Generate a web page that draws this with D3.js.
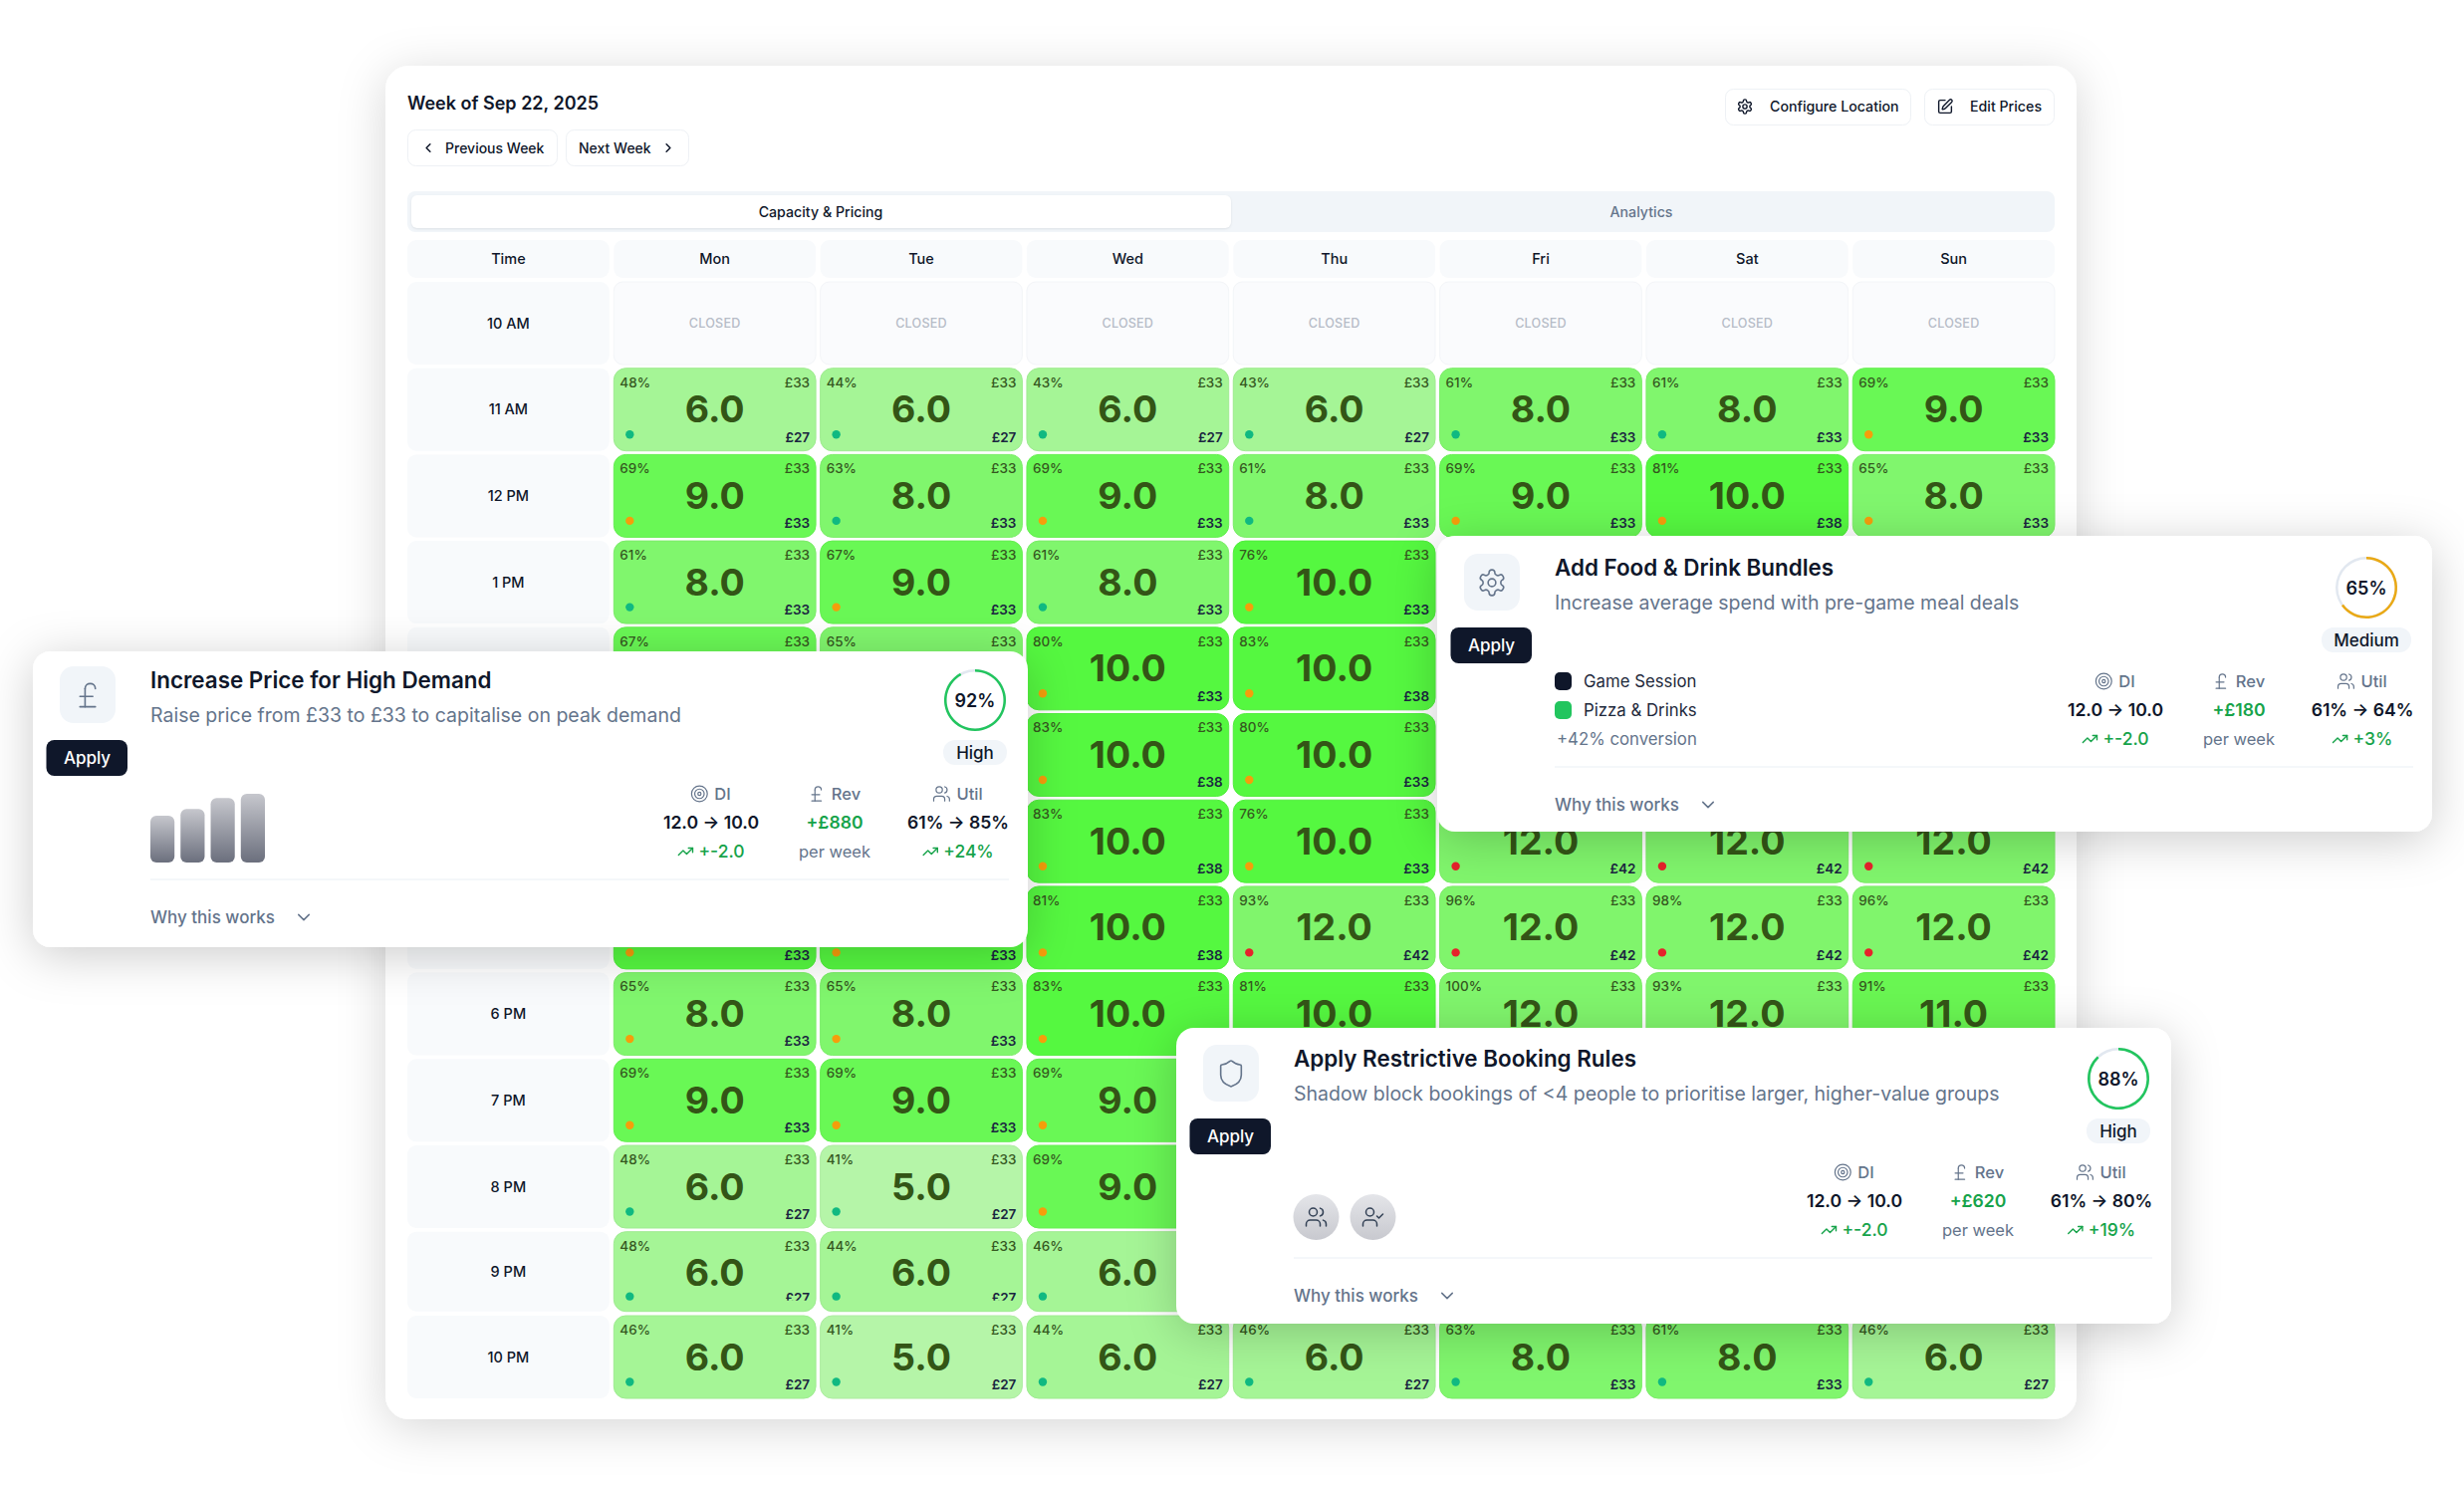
<!DOCTYPE html>
<html>
<head>
<meta charset="utf-8">
<style>
  html, body { margin: 0; background: #fff; }
  svg { display: block; font-family: Inter, "Noto Sans", sans-serif; }
  .domain { display: none; }
</style>
<script src="https://cdn.jsdelivr.net/npm/d3@7"></script>
</head>
<body>
<svg id="chart" width="2474" height="1491"></svg>
<script>
const days = ['Mon', 'Tue', 'Wed', 'Thu', 'Fri', 'Sat', 'Sun'];
const hours = ['10 AM', '11 AM', '12 PM', '1 PM', '2 PM', '3 PM', '4 PM', '5 PM', '6 PM', '7 PM', '8 PM', '9 PM', '10 PM'];

// null = closed (10 AM) or fully hidden behind one of the cards
const occupancy = [
  [null, null, null, null, null, null, null],
  [48, 44, 43, 43, 61, 61, 69],
  [69, 63, 69, 61, 69, 81, 65],
  [61, 67, 61, 76, null, null, null],
  [67, 65, 80, 83, null, null, null],
  [null, null, 83, 80, null, null, null],
  [null, null, 83, 76, 96, 96, 96],
  [81, 81, 81, 93, 96, 98, 96],
  [65, 65, 83, 81, 100, 93, 91],
  [69, 69, 69, null, null, null, null],
  [48, 41, 69, null, null, null, null],
  [48, 44, 46, null, null, null, null],
  [46, 41, 44, 46, 63, 61, 46]
];
const capacity = [
  [null, null, null, null, null, null, null],
  [6, 6, 6, 6, 8, 8, 9],
  [9, 8, 9, 8, 9, 10, 8],
  [8, 9, 8, 10, null, null, null],
  [9, 8, 10, 10, null, null, null],
  [null, null, 10, 10, null, null, null],
  [null, null, 10, 10, 12, 12, 12],
  [10, 10, 10, 12, 12, 12, 12],
  [8, 8, 10, 10, 12, 12, 11],
  [9, 9, 9, null, null, null, null],
  [6, 5, 9, null, null, null, null],
  [6, 6, 6, null, null, null, null],
  [6, 5, 6, 6, 8, 8, 6]
];
const basePrice = 33;
const newPrice = [
  [null, null, null, null, null, null, null],
  [27, 27, 27, 27, 33, 33, 33],
  [33, 33, 33, 33, 33, 38, 33],
  [33, 33, 33, 33, null, null, null],
  [33, 33, 33, 38, null, null, null],
  [null, null, 38, 33, null, null, null],
  [null, null, 38, 33, 42, 42, 42],
  [33, 33, 38, 42, 42, 42, 42],
  [33, 33, 38, 38, 42, 42, 38],
  [33, 33, 33, null, null, null, null],
  [27, 27, 33, null, null, null, null],
  [27, 27, 27, null, null, null, null],
  [27, 27, 27, 27, 33, 33, 27]
];

const capacityLevels = [5, 6, 8, 9, 10, 11, 12];
const capacityColors = ['#b5f5a8', '#a5f596', '#80f66d', '#69f855', '#55f840', '#69f652', '#80f56c'];

const cardTitles = ['Increase Price for High Demand', 'Add Food & Drink Bundles', 'Apply Restrictive Booking Rules'];
const cardSubtitles = [
  'Raise price from £33 to £33 to capitalise on peak demand',
  'Increase average spend with pre-game meal deals',
  'Shadow block bookings of <4 people to prioritise larger, higher-value groups'
];
const cardIcons = ['pound', 'gear', 'shield'];
const confidence = [92, 65, 88];
const confidenceLabels = ['High', 'Medium', 'High'];
const diValues = ['12.0 → 10.0', '12.0 → 10.0', '12.0 → 10.0'];
const diDeltas = ['+-2.0', '+-2.0', '+-2.0'];
const revValues = ['+£880', '+£180', '+£620'];
const utilValues = ['61% → 85%', '61% → 64%', '61% → 80%'];
const utilDeltas = ['+24%', '+3%', '+19%'];
const demandBars = [68, 78, 94, 100];

// card frames: x, y, height, and how far the content sits below the left card's rhythm
const cardFrames = [
  { x: 33, y: 654, h: 297, dy: 0 },
  { x: 1443, y: 538, h: 297, dy: 3 },
  { x: 1181, y: 1032, h: 297, dy: 2 }
];

const icons = {
  chevronLeft: ['m15 18-6-6 6-6'],
  chevronRight: ['m9 18 6-6-6-6'],
  chevronDown: ['m6 9 6 6 6-6'],
  pound: ['M18 7c0-5.333-8-5.333-8 0', 'M10 7v14', 'M6 21h12', 'M6 13h10'],
  gear: ['M12.22 2h-.44a2 2 0 0 0-2 2v.18a2 2 0 0 1-1 1.73l-.43.25a2 2 0 0 1-2 0l-.15-.08a2 2 0 0 0-2.73.73l-.22.38a2 2 0 0 0 .73 2.73l.15.1a2 2 0 0 1 1 1.72v.51a2 2 0 0 1-1 1.74l-.15.09a2 2 0 0 0-.73 2.73l.22.38a2 2 0 0 0 2.73.73l.15-.08a2 2 0 0 1 2 0l.43.25a2 2 0 0 1 1 1.73V20a2 2 0 0 0 2 2h.44a2 2 0 0 0 2-2v-.18a2 2 0 0 1 1-1.73l.43-.25a2 2 0 0 1 2 0l.15.08a2 2 0 0 0 2.73-.73l.22-.39a2 2 0 0 0-.73-2.73l-.15-.08a2 2 0 0 1-1-1.74v-.5a2 2 0 0 1 1-1.74l.15-.09a2 2 0 0 0 .73-2.73l-.22-.38a2 2 0 0 0-2.73-.73l-.15.08a2 2 0 0 1-2 0l-.43-.25a2 2 0 0 1-1-1.73V4a2 2 0 0 0-2-2z', 'M9 12a3 3 0 1 0 6 0a3 3 0 1 0-6 0'],
  shield: ['M20 13c0 5-3.5 7.5-7.66 8.95a1 1 0 0 1-.67-.01C7.5 20.5 4 18 4 13V6a1 1 0 0 1 1-1c2 0 4.5-1.2 6.24-2.72a1.17 1.17 0 0 1 1.52 0C14.51 3.81 17 5 19 5a1 1 0 0 1 1 1z'],
  users: ['M16 21v-2a4 4 0 0 0-4-4H6a4 4 0 0 0-4 4v2', 'M5 7a4 4 0 1 0 8 0a4 4 0 1 0-8 0', 'M22 21v-2a4 4 0 0 0-3-3.87', 'M16 3.13a4 4 0 0 1 0 7.75'],
  userCheck: ['M16 21v-2a4 4 0 0 0-4-4H6a4 4 0 0 0-4 4v2', 'M5 7a4 4 0 1 0 8 0a4 4 0 1 0-8 0', 'M16 11l2 2 4-4'],
  target: ['M2 12a10 10 0 1 0 20 0a10 10 0 1 0-20 0', 'M6 12a6 6 0 1 0 12 0a6 6 0 1 0-12 0', 'M10 12a2 2 0 1 0 4 0a2 2 0 1 0-4 0'],
  trend: ['M22 7 13.5 15.5 8.5 10.5 2 17', 'M16 7h6v6'],
  pen: ['M12 3H5a2 2 0 0 0-2 2v14a2 2 0 0 0 2 2h14a2 2 0 0 0 2-2v-7', 'M18.375 2.625a1 1 0 0 1 3 3l-9.013 9.014a2 2 0 0 1-.853.505l-2.873.84a.5.5 0 0 1-.62-.62l.84-2.873a2 2 0 0 1 .506-.852z']
};

const ink = '#0f172a';
const slate = '#64748b';
const green = '#16a34a';

const svg = d3.select('#chart');
const defs = svg.append('defs');

function shadow(id, dev, dy, opacity) {
  defs.append('filter').attr('id', id)
    .attr('x', '-20%').attr('y', '-30%').attr('width', '140%').attr('height', '160%')
    .append('feDropShadow')
    .attr('dx', 0).attr('dy', dy)
    .attr('stdDeviation', dev)
    .attr('flood-color', '#000').attr('flood-opacity', opacity);
}
shadow('panelShadow', 24, 8, 0.16);
shadow('cardShadow', 24, 8, 0.2);

function vGradient(id, top, bottom) {
  const g = defs.append('linearGradient').attr('id', id).attr('x1', 0).attr('x2', 0).attr('y1', 0).attr('y2', 1);
  g.append('stop').attr('offset', 0).attr('stop-color', top);
  g.append('stop').attr('offset', 1).attr('stop-color', bottom);
}
vGradient('barFill', '#c6c7cd', '#6b6f7d');
vGradient('avatarFill', '#e4e5e9', '#c8c9cf');

function drawIcon(parent, name, cx, cy, size, color, width) {
  const k = size / 24;
  const g = parent.append('g')
    .attr('transform', `translate(${cx - size / 2},${cy - size / 2}) scale(${k})`)
    .attr('fill', 'none').attr('stroke', color)
    .attr('stroke-width', width / k)
    .attr('stroke-linecap', 'round').attr('stroke-linejoin', 'round');
  g.selectAll('path').data(icons[name]).join('path').attr('d', d => d);
}

function label(parent, str, x, y, size, weight, color, anchor) {
  return parent.append('text')
    .attr('x', x).attr('y', y).attr('dy', '0.36em')
    .attr('font-size', size).attr('font-weight', weight)
    .attr('fill', color).attr('text-anchor', anchor || 'start')
    .text(str);
}

function box(parent, x, y, w, h, r, fill, stroke) {
  return parent.append('rect')
    .attr('x', x).attr('y', y).attr('width', w).attr('height', h).attr('rx', r)
    .attr('fill', fill).attr('stroke', stroke || 'none');
}

// page panel
box(svg, 387, 66, 1698, 1359, 24, '#fff').attr('filter', 'url(#panelShadow)');

label(svg, 'Week of Sep 22, 2025', 409, 104, 18, 600, ink);

box(svg, 409.5, 130.5, 150, 36, 8, '#fff', '#eef1f5');
drawIcon(svg, 'chevronLeft', 430, 148.5, 15, ink, 1.5);
label(svg, 'Previous Week', 447, 148.5, 14, 500, ink);
box(svg, 568.5, 130.5, 123, 36, 8, '#fff', '#eef1f5');
label(svg, 'Next Week', 581, 148.5, 14, 500, ink);
drawIcon(svg, 'chevronRight', 671, 148.5, 15, ink, 1.5);

box(svg, 1732.5, 89.5, 186, 36, 8, '#fff', '#eef1f5');
drawIcon(svg, 'gear', 1752, 107, 17, ink, 1.4);
label(svg, 'Configure Location', 1777, 107, 14.2, 500, ink);
box(svg, 1932.5, 89.5, 130, 36, 8, '#fff', '#eef1f5');
drawIcon(svg, 'pen', 1953, 107, 17, ink, 1.4);
label(svg, 'Edit Prices', 1978, 107, 14.2, 500, ink);

box(svg, 409, 192, 1654, 41, 8, '#f1f5f9');
box(svg, 413, 196, 823, 33, 6, '#fff').style('filter', 'drop-shadow(0 1px 1px rgba(0,0,0,.08))');
label(svg, 'Capacity & Pricing', 824, 212.5, 14.2, 500, ink, 'middle');
label(svg, 'Analytics', 1648, 212.5, 14.2, 500, slate, 'middle');

// grid scales
const x = d3.scaleBand().domain(['Time', ...days]).range([409, 2063]).paddingInner(0.022);
const y = d3.scaleBand().domain(hours).range([283, 1406.4]).paddingInner(0.0427);
const fill = d3.scaleOrdinal().domain(capacityLevels).range(capacityColors);
const dotColor = d3.scaleThreshold().domain([64.5, 90]).range(['#10b981', '#f59e0b', '#e5232b']);

// the picture loses a sliver out of the 9 PM row, which pulls 10 PM up and cuts the row's marks
const squashedRow = '9 PM';
const rowTop = h => y(h) - (h === '10 PM' ? 2.4 : 0);
const rowHeight = h => h === squashedRow ? y.bandwidth() - 3 : y.bandwidth();

const grid = svg.append('g');

// header and time column backgrounds
grid.append('g').selectAll('rect').data(['Time', ...days]).join('rect')
  .attr('x', d => x(d)).attr('y', 241)
  .attr('width', x.bandwidth()).attr('height', 38).attr('rx', 9)
  .attr('fill', '#f8fafc');
grid.append('g').selectAll('rect').data(hours).join('rect')
  .attr('x', x('Time')).attr('y', rowTop)
  .attr('width', x.bandwidth()).attr('height', rowHeight).attr('rx', 9)
  .attr('fill', '#f8fafc');

const xAxis = grid.append('g')
  .attr('transform', 'translate(0,260)')
  .call(d3.axisTop(x).tickSize(0).tickPadding(0));
xAxis.selectAll('text').attr('y', 0).attr('dy', '0.36em')
  .attr('font-size', 14.5).attr('font-weight', 500).attr('font-family', 'Inter').attr('fill', ink);

const yAxis = grid.append('g')
  .attr('transform', `translate(${x('Time') + x.bandwidth() / 2},0)`)
  .call(d3.axisLeft(y).tickSize(0).tickPadding(0));
yAxis.selectAll('text').attr('x', 0).attr('text-anchor', 'middle').attr('dy', '0.36em')
  .attr('font-size', 14.5).attr('font-weight', 500).attr('font-family', 'Inter').attr('fill', ink);
yAxis.selectAll('.tick').attr('transform', d => `translate(0,${rowTop(d) + rowHeight(d) / 2})`);

// flatten rows into cells
const cells = [];
hours.forEach((hour, r) => days.forEach((day, c) => {
  if (capacity[r][c] != null) {
    cells.push({ hour, day, pct: occupancy[r][c], cap: capacity[r][c], price: newPrice[r][c] });
  }
}));

// closed row
const closedG = grid.append('g').selectAll('g').data(days).join('g');
closedG.append('rect')
  .attr('x', d => x(d)).attr('y', y('10 AM'))
  .attr('width', x.bandwidth()).attr('height', y.bandwidth()).attr('rx', 9)
  .attr('fill', '#fafbfd').attr('stroke', '#f3f5f8');
closedG.append('text')
  .attr('x', d => x(d) + x.bandwidth() / 2).attr('y', y('10 AM') + y.bandwidth() / 2)
  .attr('dy', '0.36em').attr('text-anchor', 'middle')
  .attr('font-size', 12.6).attr('font-weight', 500).attr('letter-spacing', 0.2)
  .attr('fill', '#b6bcc7').text('CLOSED');

defs.append('clipPath').attr('id', 'squash').append('rect')
  .attr('x', 0).attr('y', y(squashedRow)).attr('width', 2474).attr('height', 69);

const cellG = grid.append('g').selectAll('g').data(cells).join('g')
  .attr('transform', d => `translate(${x(d.day)},0)`);

cellG.append('rect')
  .attr('y', d => rowTop(d.hour))
  .attr('width', x.bandwidth()).attr('height', d => rowHeight(d.hour)).attr('rx', 12)
  .attr('fill', d => fill(d.cap))
  .attr('stroke', d => d3.color(fill(d.cap)).darker(0.12)).attr('stroke-width', 1);

const cw = x.bandwidth();
cellG.append('text').attr('x', 6).attr('y', d => rowTop(d.hour) + 14).attr('dy', '0.36em')
  .attr('font-size', 13.5).attr('font-weight', 500).attr('fill', '#35581f')
  .text(d => d.pct + '%');
cellG.append('text').attr('x', cw - 6).attr('y', d => rowTop(d.hour) + 14).attr('dy', '0.36em')
  .attr('text-anchor', 'end').attr('font-size', 13.5).attr('font-weight', 500).attr('fill', '#35581f')
  .text('£' + basePrice);
cellG.append('text').attr('x', cw / 2).attr('y', d => rowTop(d.hour) + 41).attr('dy', '0.36em')
  .attr('text-anchor', 'middle').attr('font-size', 37.5).attr('font-weight', 700).attr('fill', '#335516')
  .text(d => d.cap.toFixed(1));

const footG = cellG.append('g')
  .attr('clip-path', d => d.hour === squashedRow ? 'url(#squash)' : null);
footG.append('circle').attr('cx', 16)
  .attr('cy', d => rowTop(d.hour) + (d.hour === squashedRow ? 65 : 66.5)).attr('r', 4.2)
  .attr('fill', d => dotColor(d.pct));
footG.append('text').attr('x', cw - 6)
  .attr('y', d => rowTop(d.hour) + (d.hour === squashedRow ? 66.5 : 69)).attr('dy', '0.36em')
  .attr('text-anchor', 'end').attr('font-size', 13.5).attr('font-weight', 600).attr('fill', '#1a2540')
  .text(d => '£' + d.price);

// recommendation cards
function metricHead(g, iconName, str, cx, cy) {
  const t = label(g, str, 0, cy, 16.5, 500, slate);
  const w = t.node().getComputedTextLength();
  const left = cx - (w + 23) / 2;
  t.attr('x', left + 23);
  drawIcon(g, iconName, left + 8, cy, 19, slate, 1.2);
}

function metricDelta(g, str, cx, cy) {
  const t = label(g, str, 0, cy, 17.5, 500, green);
  const w = t.node().getComputedTextLength();
  const left = cx - (w + 21) / 2;
  t.attr('x', left + 21);
  drawIcon(g, 'trend', left + 8, cy, 17, green, 1.4);
}

cardFrames.forEach((f, i) => {
  const g = svg.append('g').attr('transform', `translate(${f.x},${f.y})`);
  const d = f.dy;
  box(g, 0, 0, 999, f.h, 18, '#fff').attr('filter', 'url(#cardShadow)');

  box(g, 27, 15 + d, 56, 57, 14, '#f1f5f9');
  drawIcon(g, cardIcons[i], 55, 44 + d, 31, slate, 1.6);
  box(g, 13.5, 89 + d, 81.5, 36, 8, ink);
  label(g, 'Apply', 54.5, 107 + d, 17, 500, '#fff', 'middle');

  label(g, cardTitles[i], 118, 29 + d, 22.4, 600, ink);
  label(g, cardSubtitles[i], 118, 64 + d, 19.5, 400, slate);

  // confidence ring and badge, centred on the badge
  const badgeW = confidenceLabels[i] === 'Medium' ? 90 : 64;
  const ringX = 978 - badgeW / 2;
  const ring = g.append('g').attr('transform', `translate(${ringX},${49 + d})`);
  const arc = d3.arc().innerRadius(28.5).outerRadius(31).startAngle(0);
  ring.append('path').attr('d', arc({ endAngle: 2 * Math.PI })).attr('fill', '#e2e8f0');
  ring.append('path')
    .attr('d', arc({ endAngle: 2 * Math.PI * confidence[i] / 100 }))
    .attr('fill', confidence[i] >= 80 ? '#22c55e' : '#eaa915');
  label(ring, confidence[i] + '%', 0, 1, 18, 600, ink, 'middle');
  box(g, 978 - badgeW, 89 + d, badgeW, 25, 12, '#f1f5f9');
  label(g, confidenceLabels[i], ringX, 101.5 + d, 17, 500, ink, 'middle');

  // metrics
  metricHead(g, 'target', 'DI', 681, 143 + d);
  metricHead(g, 'pound', 'Rev', 805, 143 + d);
  metricHead(g, 'users', 'Util', 929, 143 + d);
  label(g, diValues[i], 681, 172 + d, 17.6, 600, ink, 'middle');
  label(g, revValues[i], 805, 172 + d, 17.6, 600, green, 'middle');
  label(g, utilValues[i], 929, 172 + d, 17.6, 600, ink, 'middle');
  metricDelta(g, diDeltas[i], 681, 201 + d);
  label(g, 'per week', 805, 201 + d, 16.5, 400, slate, 'middle');
  metricDelta(g, utilDeltas[i], 929, 201 + d);

  g.append('line').attr('x1', 118).attr('x2', 980).attr('y1', 229 + d).attr('y2', 229 + d)
    .attr('stroke', '#f1f5f9').attr('stroke-width', 1.5);
  label(g, 'Why this works', 118, 267 + d, 17, 500, slate);
  drawIcon(g, 'chevronDown', 272, 267 + d, 21, slate, 1.5);

  if (i === 0) {
    const bx = d3.scaleBand().domain(d3.range(demandBars.length)).range([118, 233]).paddingInner(0.2);
    const by = d3.scaleLinear().domain([0, 100]).range([212, 143]);
    g.append('g').selectAll('rect').data(demandBars).join('rect')
      .attr('x', (v, k) => bx(k)).attr('y', v => by(v))
      .attr('width', bx.bandwidth()).attr('height', v => by(0) - by(v)).attr('rx', 6)
      .attr('fill', 'url(#barFill)');
  }
  if (i === 1) {
    const bundle = ['Game Session', 'Pizza & Drinks'];
    const bundleColors = [ink, '#22c55e'];
    bundle.forEach((name, k) => {
      const cy = 146 + k * 29;
      box(g, 118, cy - 9, 17, 18, 5, bundleColors[k]);
      label(g, name, 147, cy, 16.8, 400, '#1e293b');
    });
    label(g, '+42% conversion', 120, 204, 16.8, 400, slate);
  }
  if (i === 2) {
    const people = ['users', 'userCheck'];
    people.forEach((name, k) => {
      const cx = 140.5 + k * 57;
      g.append('circle').attr('cx', cx).attr('cy', 190).attr('r', 23).attr('fill', 'url(#avatarFill)');
      drawIcon(g, name, cx, 190, 24, '#334155', 1.5);
    });
  }
});
</script>
</body>
</html>
